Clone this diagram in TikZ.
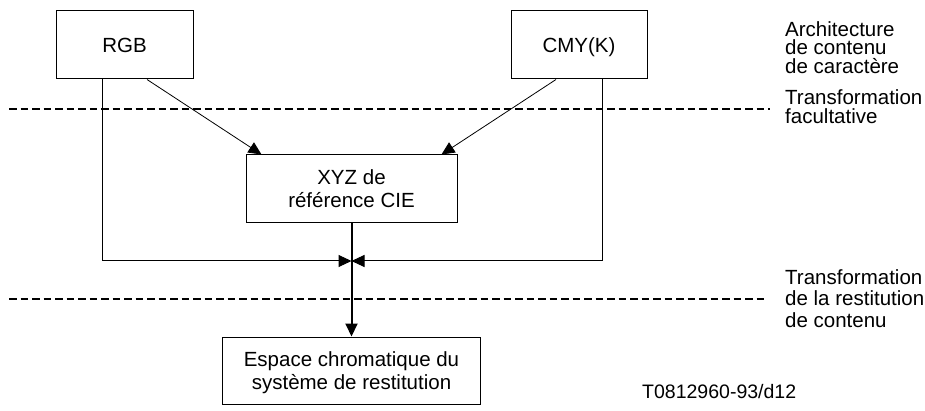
\documentclass[tikz,border=0pt]{standalone}
\usepackage{fontspec}
\setmainfont{Liberation Sans}
\usetikzlibrary{arrows.meta}
\begin{document}
\begin{tikzpicture}[x=1pt,y=-1pt,
  every node/.style={font=\fontsize{20.5}{23}\selectfont},
  box/.style={draw,line width=1pt,inner sep=0pt,align=center,text depth=0pt},
  lab/.style={anchor=north west,inner sep=0pt,align=left},
  conn/.style={line width=1pt},
  thin conn/.style={line width=0.8pt},
  tip/.style={-{Triangle[length=13pt,width=12pt]}},
  sep/.style={line width=2pt,dash pattern=on 7.5pt off 4pt}]
\useasboundingbox (0,0) rectangle (925,411);
% boxes
\node[box,minimum width=137pt,minimum height=68pt] (RGB) at (124.5,45) {RGB};
\node[box,minimum width=136pt,minimum height=68pt] (CMY) at (579,45) {CMY(K)};
\node[box,minimum width=211pt,minimum height=68pt] (XYZ) at (351.5,189) {XYZ de\\référence CIE};
\node[box,minimum width=258pt,minimum height=67pt] (ESP) at (351.5,370.5) {Espace chromatique du\\système de restitution};
% dashed separators
\coordinate (d1a) at (9,109);
\coordinate (d1b) at (770,109);
\coordinate (d2a) at (9,299);
\coordinate (d2b) at (767,299);
\draw[sep] (d1a) -- (d1b);
\draw[sep] (d2a) -- (d2b);
% connectors
\coordinate (J) at (351.5,261);
\draw[thin conn,tip] ([xshift=22.5pt]RGB.south) -- ([xshift=-90pt]XYZ.north);
\draw[thin conn,tip] ([xshift=-23pt]CMY.south) -- ([xshift=90pt]XYZ.north);
\draw[conn,tip] ([xshift=-22.5pt]RGB.south) |- (J);
\draw[conn,tip] ([xshift=23pt]CMY.south) |- (J);
\draw[line width=2pt,tip] (XYZ.south) -- (ESP.north);
% right labels
\node[lab,font=\fontsize{20.5}{18.5}\selectfont] (l1) at (785,21) {Architecture\\de contenu\\de caractère};
\node[lab,font=\fontsize{20.5}{19}\selectfont] (l2) at (785,89.5) {Transformation\\facultative};
\node[lab,font=\fontsize{20.5}{21.5}\selectfont] (l3) at (785,269.1) {Transformation\\de la restitution\\de contenu};
\node[anchor=base west,inner sep=0pt,font=\fontsize{19.5}{21}\selectfont] (ref) at (642,398) {T0812960-93/d12};
\end{tikzpicture}
\end{document}
